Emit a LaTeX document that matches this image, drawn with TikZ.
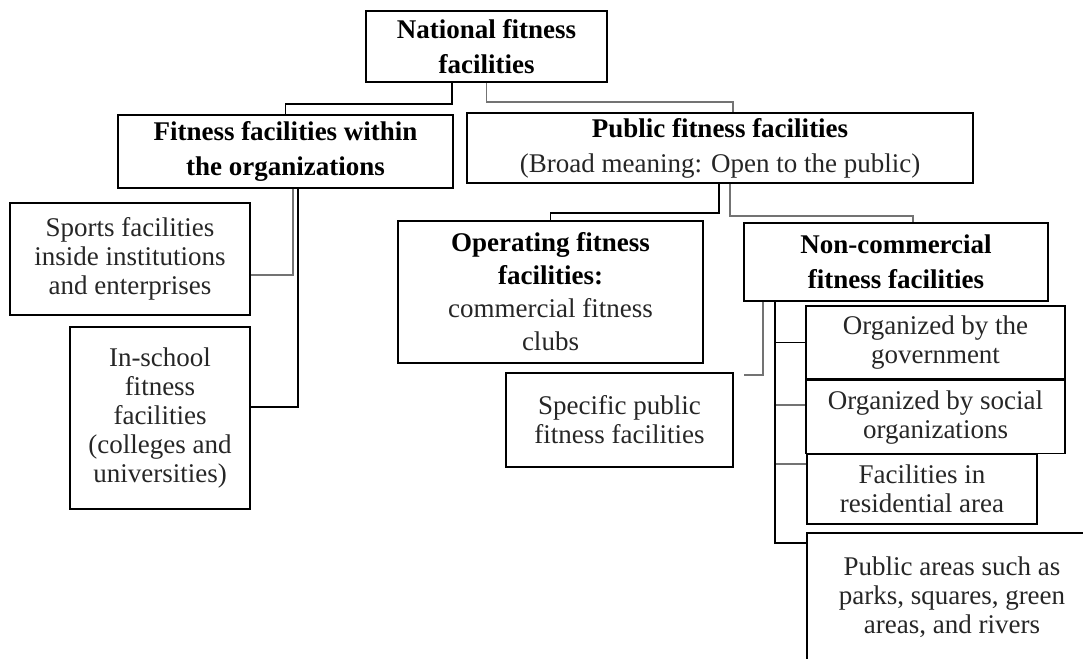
\documentclass[tikz,border=0pt]{standalone}
\usepackage{fontspec}
\setmainfont{Liberation Serif}
\usetikzlibrary{positioning}

\begin{document}
\begin{tikzpicture}[
  x=0.5pt, y=-0.5pt,
  box/.style={draw, line width=0.8pt, align=center, inner sep=1pt, text=black!85,
    font=\fontsize{13.5}{14.5}\selectfont},
  head/.style={box, text=black, font=\fontsize{13.5}{17.5}\selectfont},
  link/.style={line width=0.8pt},
  link2/.style={line width=0.9pt, black!55}
]
  \useasboundingbox (0,0) rectangle (1083,659);
  \clip (0,0) rectangle (1083,659);

  \node[head, minimum width=120.5pt, minimum height=35.5pt] (nat) at (486.5,46.5)
    {\bfseries National fitness\\\bfseries facilities};
  \node[head, minimum width=167.5pt, minimum height=36.5pt] (org) at (285.5,151.5)
    {\bfseries Fitness facilities within\\\bfseries the organizations};
  \node[head, minimum width=253pt, minimum height=35pt] (pub) at (720,148)
    {\bfseries Public fitness facilities\\{\color{black!85}(Broad meaning: Open to the public)}};

  \node[box, minimum width=120pt, minimum height=56pt] (spo) at (130,259)
    {Sports facilities\\inside institutions\\and enterprises};
  \node[box, minimum width=90pt, minimum height=91pt] (sch) at (160,418)
    {In-school\\fitness\\facilities\\(colleges and\\universities)};

  \node[head, font=\fontsize{13.5}{16.5}\selectfont, minimum width=152.5pt, minimum height=71pt] (ope) at (550.5,292)
    {\bfseries Operating fitness\\\bfseries facilities:\\{\color{black!85}commercial fitness}\\{\color{black!85}clubs}};
  \node[head, minimum width=152pt, minimum height=39pt] (nco) at (896,262)
    {\bfseries Non-commercial\\\bfseries fitness facilities};
  \node[box, minimum width=113.5pt, minimum height=47pt] (spe) at (619.5,420)
    {Specific public\\fitness facilities};

  \node[box, minimum width=129.5pt, minimum height=36.5pt] (gov) at (935.5,342.5)
    {Organized by the\\government};
  \node[box, minimum width=129.5pt, minimum height=36.5pt, below=0pt of gov] (soc)
    {Organized by social\\organizations};
  \node[box, minimum width=115pt, minimum height=35pt] (res) at (922,489)
    {Facilities in\\residential area};
  \node[box, minimum width=145pt, minimum height=64pt] (par) at (952,597)
    {Public areas such as\\parks, squares, green\\areas, and rivers};

  % first level
  \draw[link] ([xshift=-17.25pt]nat.south) |- ([yshift=5pt]org.north) -- (org.north);
  \draw[link2] (nat.south) |- ([xshift=6.5pt,yshift=5pt]pub.north) -- ([xshift=6.5pt]pub.north);

  \draw[link2] ([xshift=3.75pt]org.south) |- ([yshift=-8pt]spo.east);
  \draw[link] ([xshift=6.25pt]org.south) |- ([yshift=5.5pt]sch.east);

  \draw[link] ([xshift=-0.5pt]pub.south) |- ([yshift=3.5pt]ope.north) -- (ope.north);
  \draw[link2] ([xshift=5pt]pub.south) |- ([xshift=8.5pt,yshift=3pt]nco.north) -- ([xshift=8.5pt]nco.north);

  % non-commercial branches
  \coordinate (spine) at ([xshift=-60.5pt]nco.south);
  \draw[link2] ([xshift=-66.5pt]nco.south) |- ([xshift=5pt,yshift=22.5pt]spe.east);
  \draw[link2] ([yshift=6.25pt]soc.west) -| (spine);
  \draw[link2] ([yshift=12.5pt]res.west) -| (spine);
  \draw[link] (gov.west) -| (spine);
  \draw[link] (spine) |- ([yshift=27pt]par.west);
\end{tikzpicture}
\end{document}
